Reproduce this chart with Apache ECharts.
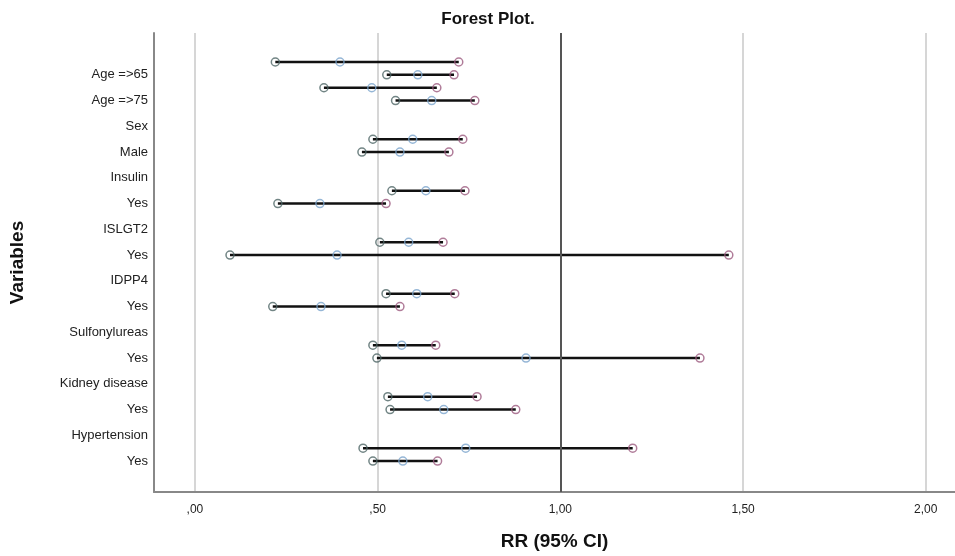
<!DOCTYPE html>
<html lang="en">
<head>
  <meta charset="UTF-8">
  <script src="https://cdn.jsdelivr.net/npm/echarts@6/dist/echarts.min.js"></script>
  <title>Forest Plot</title>
  <style>
    * {margin: 0; padding: 0;}
    html, body { width: 100%; height: 100%; overflow: hidden; background-color: #fff; }
    #chart { width: 100%; height: 100%; }
  </style>
</head>
<body>
  <div id="chart"></div>
</body>
<script>
// row slots (top to bottom) and their estimates
var rowPos   = [0, 1, 2, 3, 6, 7, 10, 11, 14, 15, 18, 19, 22, 23, 26, 27, 30, 31]
var lower    = [0.22, 0.525, 0.353, 0.549, 0.487, 0.457, 0.539, 0.227, 0.506, 0.096, 0.523, 0.213, 0.487, 0.498, 0.528, 0.534, 0.46, 0.487]
var estimate = [0.397, 0.61, 0.484, 0.648, 0.596, 0.561, 0.632, 0.342, 0.585, 0.389, 0.607, 0.345, 0.566, 0.906, 0.637, 0.681, 0.741, 0.569]
var upper    = [0.722, 0.709, 0.662, 0.766, 0.733, 0.695, 0.739, 0.523, 0.679, 1.461, 0.711, 0.561, 0.659, 1.382, 0.772, 0.878, 1.198, 0.664]

// variable labels and their slots
var labelPos  = [1, 3, 5, 7, 9, 11, 13, 15, 17, 19, 21, 23, 25, 27, 29, 31]
var labelText = ['Age =>65', 'Age =>75', 'Sex', 'Male', 'Insulin', 'Yes', 'ISLGT2', 'Yes',
                 'IDPP4', 'Yes', 'Sulfonylureas', 'Yes', 'Kidney disease', 'Yes', 'Hypertension', 'Yes']

var xTicks = [0, 0.5, 1, 1.5, 2]

var FONT = 'Liberation Sans, Arial, sans-serif'

window.onload = function () {
  drawForest()
}

function pts (vals) {
  return vals.map((v, i) => [v, rowPos[i]])
}

function circleSeries (vals, color) {
  return {
    type: 'scatter',
    symbol: 'circle',
    symbolSize: 8,
    z: 3,
    itemStyle: { color: 'rgba(255,255,255,0)', borderColor: color, borderWidth: 1.5 },
    data: pts(vals)
  }
}

function drawForest () {
  var option = {
    animation: false,
    textStyle: { fontFamily: FONT },
    title: {
      text: 'Forest Plot.',
      left: 483,
      top: '1.1%',
      textAlign: 'center',
      textStyle: { fontFamily: FONT, fontSize: 17, fontWeight: 'bold', color: '#111' }
    },
    grid: { left: 154, right: 0, top: '5.94%', bottom: '10.3%' },
    xAxis: {
      type: 'value',
      min: -0.112,
      max: 2.08,
      name: 'RR (95% CI)',
      nameLocation: 'middle',
      nameGap: 40,
      nameTextStyle: { fontFamily: FONT, fontSize: 19, fontWeight: 'bold', color: '#111' },
      axisLine: { show: true, onZero: false, lineStyle: { color: '#888', width: 2 } },
      axisTick: { show: false, customValues: xTicks },
      axisLabel: {
        customValues: xTicks,
        margin: 12,
        fontSize: 12,
        color: '#222',
        formatter: v => v.toFixed(2).replace('.', ',').replace(/^0/, '')
      },
      splitLine: { show: true, lineStyle: { color: ['#c8c8c8', '#c8c8c8', 'rgba(0,0,0,0)', '#c8c8c8', '#c8c8c8'], width: 1.5 } }
    },
    yAxis: {
      type: 'value',
      inverse: true,
      min: -2.25,
      max: 33.4,
      name: 'Variables',
      nameLocation: 'middle',
      nameGap: 127,
      nameTextStyle: { fontFamily: FONT, fontSize: 19, fontWeight: 'bold', color: '#111' },
      axisLine: { show: true, onZero: false, lineStyle: { color: '#888', width: 2 } },
      axisTick: { show: false, customValues: labelPos },
      axisLabel: {
        customValues: labelPos,
        margin: 6,
        fontSize: 13,
        color: '#222',
        formatter: v => labelText[labelPos.indexOf(v)] || ''
      },
      splitLine: { show: false }
    },
    series: [
      {
        type: 'custom',
        z: 2,
        data: rowPos.map((p, i) => [lower[i], upper[i], p]),
        encode: { x: [0, 1], y: 2 },
        renderItem: function (params, api) {
          var a = api.coord([api.value(0), api.value(2)])
          var b = api.coord([api.value(1), api.value(2)])
          return {
            type: 'line',
            shape: { x1: a[0], y1: a[1], x2: b[0], y2: b[1] },
            style: { stroke: '#111', lineWidth: 2.5 }
          }
        },
        markLine: {
          silent: true,
          symbol: 'none',
          label: { show: false },
          lineStyle: { color: '#555', width: 2, type: 'solid' },
          data: [{ xAxis: 1 }]
        }
      },
      circleSeries(lower, '#4f6666'),
      circleSeries(estimate, '#7ba4cc'),
      circleSeries(upper, '#9c5b80')
    ]
  }
  var chart = echarts.init(document.getElementById('chart'))
  chart.setOption(option)
}
</script>
</html>
